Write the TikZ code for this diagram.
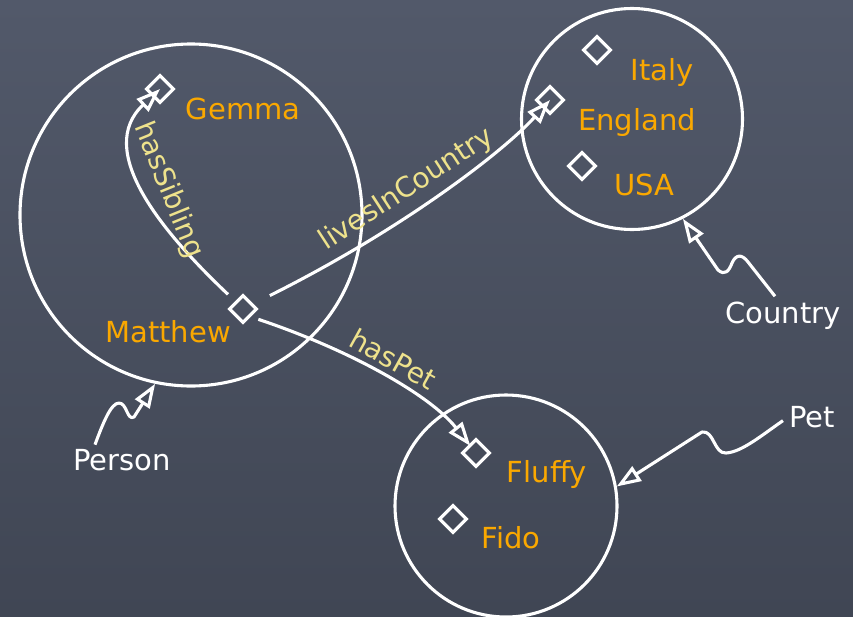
\documentclass[tikz,border=0pt]{standalone}
\usepackage{fontspec}
\setmainfont{DejaVu Sans}
\usetikzlibrary{arrows.meta,shapes.geometric,calc}
\definecolor{boardtop}{RGB}{82,89,106}
\definecolor{boardbot}{RGB}{64,70,84}
\definecolor{instorange}{RGB}{250,168,0}
\definecolor{propyellow}{RGB}{238,226,140}
\begin{document}
\begin{tikzpicture}[x=1pt,y=-1pt,
  chalk/.style={draw=white, line width=3.1pt},
  setcircle/.style={chalk, circle, inner sep=0pt},
  indiv/.style={chalk, diamond, inner sep=0pt, minimum width=28pt, minimum height=28pt},
  inst/.style={text=instorange, font=\fontsize{29}{32}\selectfont, inner sep=2pt, anchor=base},
  cls/.style={text=white, font=\fontsize{29}{32}\selectfont, inner sep=2pt, anchor=base},
  prop/.style={text=propyellow, font=\fontsize{28}{31}\selectfont, inner sep=0pt, anchor=base},
  rel/.style={chalk, -{Triangle[open, length=24pt, width=17pt]}, line join=round}
]
\shade[top color=boardtop, bottom color=boardbot] (0,0) rectangle (853,616);
\useasboundingbox (0,0) rectangle (853,616);

% class circles
\node[setcircle, minimum size=342pt] (personset) at (191,215) {};
\node[setcircle, minimum size=221pt] (countryset) at (632,119) {};
\node[setcircle, minimum size=222pt] (petset) at (506,506) {};

% individuals
\node[indiv] (gemma) at (160,89) {};
\node[indiv] (matthew) at (243,309) {};
\node[indiv] (italy) at (597,50) {};
\node[indiv] (england) at (550,100) {};
\node[indiv] (usa) at (582,166) {};
\node[indiv] (fluffy) at (476,453) {};
\node[indiv] (fido) at (453,519) {};

% individual labels
\node[inst] (gemmalbl) at (243,119) {Gemma};
\node[inst] (matthewlbl) at (168,342) {Matthew};
\node[inst] (italylbl) at (662,80) {Italy};
\node[inst] (englandlbl) at (637,130) {England};
\node[inst] (usalbl) at (644,195) {USA};
\node[inst] (fluffylbl) at (547,482) {Fluffy};
\node[inst] (fidolbl) at (511,548) {Fido};

% class labels
\node[cls] (personlbl) at (122,470) {Person};
\node[cls] (countrylbl) at (783,323) {Country};
\node[cls] (petlbl) at (812,427) {Pet};

% property edges
\draw[rel, shorten <=10pt] (matthew.north west) .. controls (160,230) and (95,150) .. (gemma.center);
\draw[rel, shorten <=30pt] (matthew.center) .. controls (405,228) and (505,150) .. (england.center);
\draw[rel, shorten <=8pt, shorten >=9pt] (matthew.south east) .. controls (350,350) and (430,395) .. (fluffy.center);

% property labels
\node[prop, rotate=-68] (hassibling) at (161,193) {hasSibling};
\node[prop, rotate=33] (livesin) at (411,196) {livesInCountry};
\node[prop, rotate=-29] (haspet) at (388,368) {hasPet};

% type squiggles
\draw[rel] ($(personlbl.north)+(-27,-2)$) .. controls (103,423) and (111,403) .. (119,403)
  .. controls (127,403) and (127,421) .. (134,417) -- (personset.-102.5);
\draw[rel] ($(countrylbl.north)+(-8,-3)$) -- (748,262) .. controls (742,254) and (736,254) .. (732,263)
  .. controls (729,271) and (725,276) .. (718,270) -- (countryset.-63);
\draw[rel] ($(petlbl.west)+(-4,4)$) .. controls (762,435) and (742,452) .. (726,453)
  .. controls (714,454) and (714,430) .. (702,432) -- (petset.10.7);
\end{tikzpicture}
\end{document}
